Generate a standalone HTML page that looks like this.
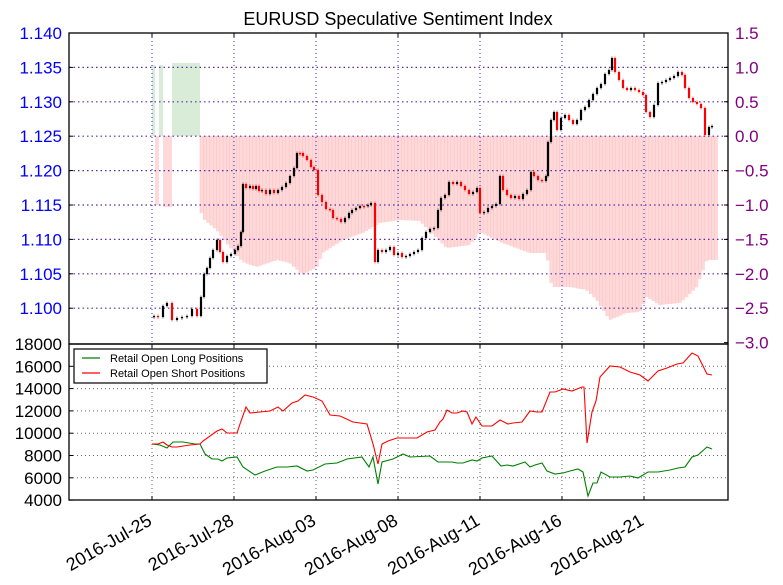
<!DOCTYPE html>
<html><head><meta charset="utf-8"><style>
html,body{margin:0;padding:0;background:#fff;}
svg{display:block;font-family:"Liberation Sans","DejaVu Sans",sans-serif;}
</style></head><body>
<svg id="c" width="783" height="585" viewBox="0 0 783 585" xmlns="http://www.w3.org/2000/svg">
<rect width="783" height="585" fill="#fff"/>
<g id="bars"></g>
<g id="grid"></g>
<g id="candles"></g>
<g id="lines"></g>
<g id="axes"></g>
</svg>
<script>
var NS="http://www.w3.org/2000/svg";
function el(p,t,a,txt){var e=document.createElementNS(NS,t);for(var k in a)e.setAttribute(k,a[k]);if(txt!==undefined)e.textContent=txt;document.getElementById(p).appendChild(e);return e;}
var L=69,R=728,T=33,M=344,B=500;
function interp(pts,x){for(var i=0;i<pts.length-1;i++){if(x>=pts[i][0]&&x<=pts[i+1][0]){var t=(x-pts[i][0])/(pts[i+1][0]-pts[i][0]);return pts[i][1]+t*(pts[i+1][1]-pts[i][1]);}}return pts[pts.length-1][1];}
var Y0=136;
el("bars","rect",{x:152,y:65,width:3,height:Y0-65,fill:"#d8ecd8"});
el("bars","rect",{x:159,y:65,width:4,height:Y0-65,fill:"#d8ecd8"});
el("bars","rect",{x:172,y:63,width:28,height:Y0-63,fill:"#d8ecd8"});
el("bars","rect",{x:155,y:Y0,width:4,height:205-Y0,fill:"#ffd9d9"});
el("bars","rect",{x:163,y:Y0,width:9,height:207-Y0,fill:"#ffd9d9"});
var prof=[[200,210],[205,220],[217,230],[230,247],[243,262],[257,267],[277,260],[290,263],[303,275],[317,267],[323,253],[343,240],[363,233],[380,223],[400,220],[420,221],[447,248],[470,245],[480,232],[503,243],[530,253],[547,253],[552,287],[570,287],[587,290],[597,300],[610,320],[627,313],[640,312],[647,297],[660,305],[680,303],[687,297],[697,287],[707,260],[716,260]];
for(var x=200;x<716;x+=3.3){var yb=interp(prof,x+1.6);el("bars","rect",{x:x.toFixed(1),y:Y0,width:3.3,height:(yb-Y0).toFixed(1),fill:"#ffd9d9"});el("bars","line",{x1:x.toFixed(1),y1:Y0,x2:x.toFixed(1),y2:yb.toFixed(1),stroke:"#f8bfbf","stroke-width":0.5});}
var vx=[152,234,316,398,480,562,644];
for(var i=0;i<vx.length;i++){el("grid","line",{x1:vx[i],y1:T,x2:vx[i],y2:M,stroke:"#2a2ae0","stroke-width":1,"stroke-dasharray":"1,3"});el("grid","line",{x1:vx[i],y1:M,x2:vx[i],y2:B,stroke:"#666","stroke-width":1,"stroke-dasharray":"1,3"});}
for(var k=1;k<9;k++){var y=T+k*34.4;el("grid","line",{x1:L,y1:y,x2:R,y2:y,stroke:"#5a2aa8","stroke-width":1.2,"stroke-dasharray":"1.5,3"});}
for(var k=1;k<7;k++){var y=M+k*22.3;el("grid","line",{x1:L,y1:y,x2:R,y2:y,stroke:"#666","stroke-width":1,"stroke-dasharray":"1,3"});}
var cl=[[150,317],[154,316],[158,317],[163,306],[167,303],[172,320],[177,318],[182,317],[187,316],[192,309],[197,316],[201,297],[204,274],[207,268],[210,258],[213,250],[217,240],[220,252],[223,262],[227,256],[231,254],[235,250],[238,246],[241,232],[243,184],[246,188],[250,186],[253,189],[256,186],[259,191],[262,190],[266,194],[270,190],[274,193],[278,190],[282,187],[286,183],[290,176],[294,168],[297,153],[300,153],[303,156],[307,160],[311,167],[314,170],[318,195],[322,202],[326,209],[330,210],[333,218],[337,219],[341,222],[345,218],[349,213],[352,210],[356,208],[360,206],[364,206],[368,205],[371,203],[375,262],[378,250],[382,252],[386,250],[390,247],[394,255],[398,253],[402,257],[406,256],[410,254],[414,252],[418,250],[422,238],[426,232],[430,229],[434,228],[438,210],[441,198],[445,195],[449,182],[453,184],[457,182],[461,186],[465,190],[469,194],[473,192],[477,188],[480,213],[484,212],[488,208],[492,206],[496,204],[500,176],[503,190],[507,195],[511,198],[515,196],[519,199],[523,194],[527,190],[531,172],[534,176],[538,180],[542,181],[546,176],[548,142],[551,120],[554,112],[557,130],[561,118],[565,115],[569,120],[573,124],[577,120],[581,110],[585,107],[589,100],[593,94],[597,88],[601,84],[605,74],[609,70],[612,58],[615,72],[619,80],[623,88],[627,90],[631,88],[635,90],[639,92],[643,95],[646,112],[650,117],[654,105],[658,83],[662,82],[666,80],[670,78],[674,76],[678,72],[682,75],[685,88],[689,98],[693,102],[697,104],[701,108],[705,135],[709,127],[712,126]];
for(var i=1;i<cl.length;i++){var o=cl[i-1][1],c=cl[i][1],cx=cl[i][0];var up=c<o;var col=up?"#000":"#f00";var ty=Math.min(o,c),h=Math.max(Math.abs(c-o),1.2);
el("candles","line",{x1:cx,y1:ty-1.5,x2:cx,y2:ty+h+1.5,stroke:col,"stroke-width":0.6});
el("candles","rect",{x:cx-1.1,y:ty,width:2.2,height:h,fill:col});}
var red=[[152,444],[158,444],[163,442],[167,445],[172,447],[177,447],[190,445],[200,444],[203,441],[217,431],[222,429],[227,433],[237,433],[240,424],[246,407],[250,413],[260,412],[270,411],[278,407],[283,411],[292,403],[298,401],[305,395],[313,397],[322,401],[330,415],[340,416],[353,422],[367,424],[373,444],[378,464],[382,444],[388,441],[397,438],[417,438],[427,432],[435,430],[440,422],[443,419],[447,410],[452,413],[457,413],[463,411],[467,412],[472,424],[476,417],[482,426],[492,426],[500,420],[508,424],[513,423],[522,422],[530,411],[537,412],[542,412],[550,392],[555,392],[563,389],[572,391],[582,387],[584,387],[587,443],[592,412],[596,401],[600,377],[610,366],[620,367],[630,372],[640,375],[648,381],[658,371],[667,368],[677,364],[683,363],[692,353],[698,356],[707,374],[712,375]];
var grn=[[152,444],[160,445],[167,448],[173,442],[183,442],[195,444],[200,444],[205,454],[212,459],[218,459],[222,461],[227,458],[237,457],[243,467],[255,475],[265,471],[277,467],[287,467],[297,466],[307,471],[313,470],[325,464],[337,463],[347,459],[362,457],[369,467],[373,457],[378,484],[382,462],[393,459],[403,454],[410,457],[430,456],[438,462],[452,462],[457,463],[463,463],[472,460],[477,461],[482,458],[492,456],[501,466],[507,465],[513,466],[525,462],[530,467],[535,465],[542,463],[547,471],[555,474],[563,473],[570,471],[578,469],[583,472],[588,496],[593,483],[597,483],[601,472],[610,477],[620,477],[630,476],[638,478],[648,472],[658,472],[670,470],[678,468],[685,467],[692,457],[698,455],[707,447],[712,449]];
function pl(p){return p.map(function(q){return q[0]+","+q[1]}).join(" ");}
el("lines","polyline",{points:pl(grn),fill:"none",stroke:"#008000","stroke-width":1.1});
el("lines","polyline",{points:pl(red),fill:"none",stroke:"#f00","stroke-width":1.1});
el("axes","rect",{x:L,y:T,width:R-L,height:M-T,fill:"none",stroke:"#000","stroke-width":1.3});
el("axes","rect",{x:L,y:M,width:R-L,height:B-M,fill:"none",stroke:"#000","stroke-width":1.3});
el("axes","text",{x:398,y:25,"text-anchor":"middle","font-size":18,fill:"#000"},"EURUSD Speculative Sentiment Index");
var ll=["1.140","1.135","1.130","1.125","1.120","1.115","1.110","1.105","1.100"];
for(var k=0;k<ll.length;k++){var y=T+k*34.4;el("axes","text",{x:62,y:y+6,"text-anchor":"end","font-size":17,fill:"#0000ff"},ll[k]);el("axes","line",{x1:L,y1:y,x2:L+4,y2:y,stroke:"#000"});}
var rl=["1.5","1.0","0.5","0.0","\u22120.5","\u22121.0","\u22121.5","\u22122.0","\u22122.5","\u22123.0"];
for(var k=0;k<rl.length;k++){var y=T+k*34.4;el("axes","text",{x:735,y:y+6,"font-size":17,fill:"#800080"},rl[k]);el("axes","line",{x1:R-4,y1:y,x2:R,y2:y,stroke:"#000"});}
var bl=["18000","16000","14000","12000","10000","8000","6000","4000"];
for(var k=0;k<bl.length;k++){var y=M+k*22.3;el("axes","text",{x:62,y:y+6,"text-anchor":"end","font-size":17,fill:"#000"},bl[k]);el("axes","line",{x1:L,y1:y,x2:L+4,y2:y,stroke:"#000"});}
var xl=["2016-Jul-25","2016-Jul-28","2016-Aug-03","2016-Aug-08","2016-Aug-11","2016-Aug-16","2016-Aug-21"];
for(var i=0;i<vx.length;i++){el("axes","text",{x:0,y:0,"text-anchor":"end","font-size":18,fill:"#000",transform:"translate("+(vx[i]+1)+",524) rotate(-30)"},xl[i]);el("axes","line",{x1:vx[i],y1:B-4,x2:vx[i],y2:B,stroke:"#000"});el("axes","line",{x1:vx[i],y1:M,x2:vx[i],y2:M+4,stroke:"#000"});el("axes","line",{x1:vx[i],y1:T,x2:vx[i],y2:T+4,stroke:"#000"});}
el("axes","rect",{x:74,y:349,width:193,height:34,fill:"#fff",stroke:"#000","stroke-width":1.2});
el("axes","line",{x1:82,y1:358,x2:100,y2:358,stroke:"#008000","stroke-width":1.2});
el("axes","line",{x1:82,y1:373,x2:100,y2:373,stroke:"#f00","stroke-width":1.2});
el("axes","text",{x:110,y:362,"font-size":11,fill:"#000"},"Retail Open Long Positions");
el("axes","text",{x:110,y:377,"font-size":11,fill:"#000"},"Retail Open Short Positions");
</script>
</body></html>
